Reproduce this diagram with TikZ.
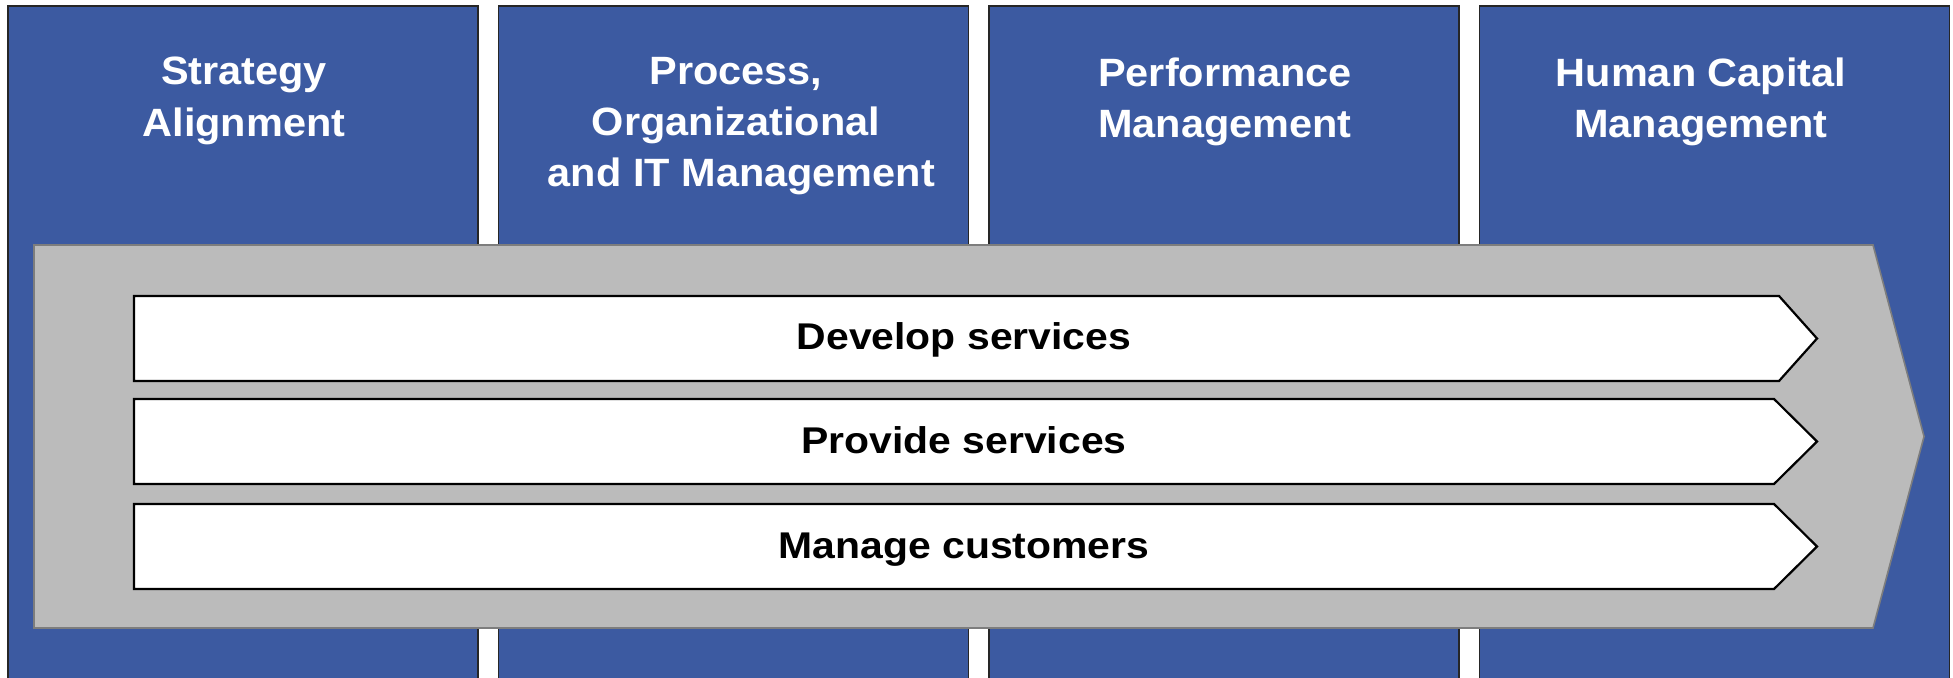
\documentclass[tikz,border=0pt]{standalone}
\usepackage{fontspec}
\setmainfont{Liberation Sans}
\newfontfamily\hdrfont[FakeStretch=1.05]{Liberation Sans}
\newfontfamily\barfont[FakeStretch=1.1]{Liberation Sans}
\definecolor{colblue}{RGB}{60,90,161}
\definecolor{arrowgray}{RGB}{187,187,187}
\definecolor{arrowedge}{RGB}{125,125,125}
\begin{document}
\begin{tikzpicture}[x=0.5pt,y=-0.5pt,
  column/.style={fill=colblue,draw=black!85,line width=0.9pt},
  header/.style={anchor=north,inner sep=0pt,align=center,text=white,font=\hdrfont\bfseries\fontsize{19.75pt}{25.6pt}\selectfont},
  bigarrow/.style={fill=arrowgray,draw=arrowedge,line width=0.8pt,line join=miter},
  procarrow/.style={fill=white,draw=black,line width=1.1pt,line join=miter},
  proclabel/.style={anchor=base,inner sep=0pt,text=black,font=\barfont\bfseries\fontsize{18.6pt}{22pt}\selectfont}]
\useasboundingbox (0,0) rectangle (1953,678);
\clip (0,0) rectangle (1953,678);
% columns
\path[column] (8,6) rectangle (478,700);
\path[column] (498.5,6) rectangle (968.5,700);
\path[column] (989,6) rectangle (1459,700);
\path[column] (1479.5,6) rectangle (1949.5,700);
% headers
\node[header] (h1) at (244,57) {Strategy\\Alignment};
\node[header] (h2) at (736,57) {Process,\\Organizational\\\hspace*{0.278em}and IT Management};
\node[header] (h3) at (1225,57) {Performance\\Management};
\node[header] (h4) at (1701,57) {Human Capital\\Management};
% big gray arrow
\path[bigarrow] (34,245) -- (1873,245) -- (1924,436.5) -- (1873,628) -- (34,628) -- cycle;
% process arrows
\path[procarrow] (134,296) -- (1779,296) -- (1817,338.5) -- (1779,381) -- (134,381) -- cycle;
\path[procarrow] (134,399) -- (1774,399) -- (1817,441.5) -- (1774,484) -- (134,484) -- cycle;
\path[procarrow] (134,504) -- (1774,504) -- (1817,546.5) -- (1774,589) -- (134,589) -- cycle;
\node[proclabel] (p1) at (964,349.5) {Develop services};
\node[proclabel] (p2) at (964,453) {Provide services};
\node[proclabel] (p3) at (964,558) {Manage customers};
\end{tikzpicture}
\end{document}
